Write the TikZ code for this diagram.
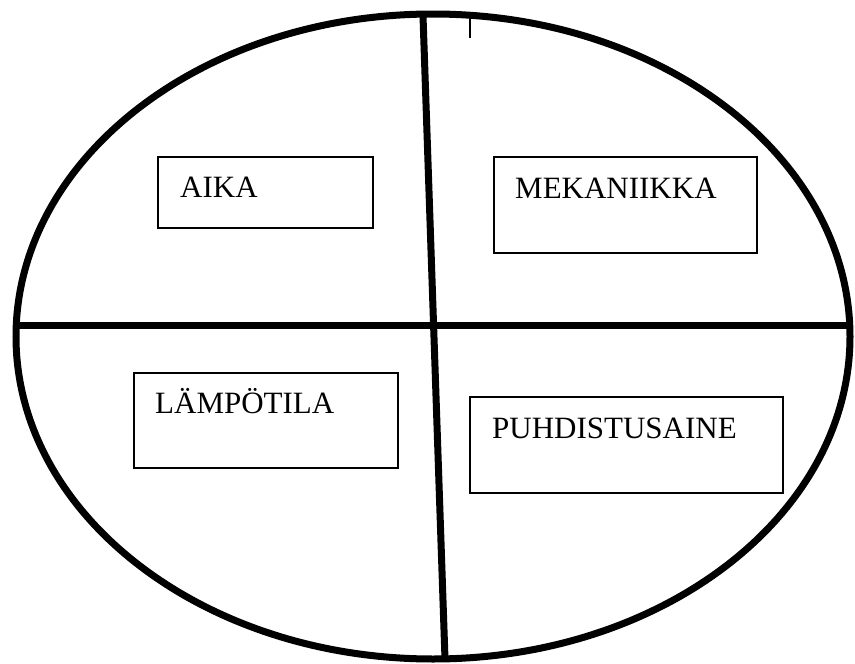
\documentclass[tikz,border=0pt]{standalone}
\usepackage{fontspec}
\setmainfont{Liberation Serif}
\begin{document}
\begin{tikzpicture}[x=1pt,y=-1pt,
  thick line/.style={line width=7pt},
  boxstyle/.style={draw, line width=1.5pt, rectangle, inner sep=0pt},
  label/.style={anchor=base west, inner sep=0pt, font=\fontsize{31}{34}\selectfont}]
\useasboundingbox (0,0) rectangle (855,664);
\fill[white] (0,0) rectangle (855,664);
% ellipse
\draw[thick line] (433,336.5) ellipse [x radius=417, y radius=322.5];
% dividing lines
\coordinate (vt) at (423,16);
\coordinate (vb) at (445,659);
\coordinate (hl) at (16,325);
\coordinate (hr) at (850,325);
\draw[thick line] (vt) -- (vb);
\draw[thick line] (hl) -- (hr);
% small tick
\coordinate (t1) at (470,18);
\coordinate (t2) at (470,38);
\draw[line width=1.2pt] (t1) -- (t2);
% boxes
\node[boxstyle, minimum width=215, minimum height=71] (b1) at (265.5,192.5) {};
\node[boxstyle, minimum width=263, minimum height=96] (b2) at (625.5,205) {};
\node[boxstyle, minimum width=264, minimum height=95] (b3) at (266,420.5) {};
\node[boxstyle, minimum width=313, minimum height=96] (b4) at (626.5,445) {};
% labels
\node[label] (l1) at (180,197) {AIKA};
\node[label] (l2) at (515,198) {MEKANIIKKA};
\node[label] (l3) at (155,413) {LÄMPÖTILA};
\node[label] (l4) at (492,438) {PUHDISTUSAINE};
\end{tikzpicture}
\end{document}
